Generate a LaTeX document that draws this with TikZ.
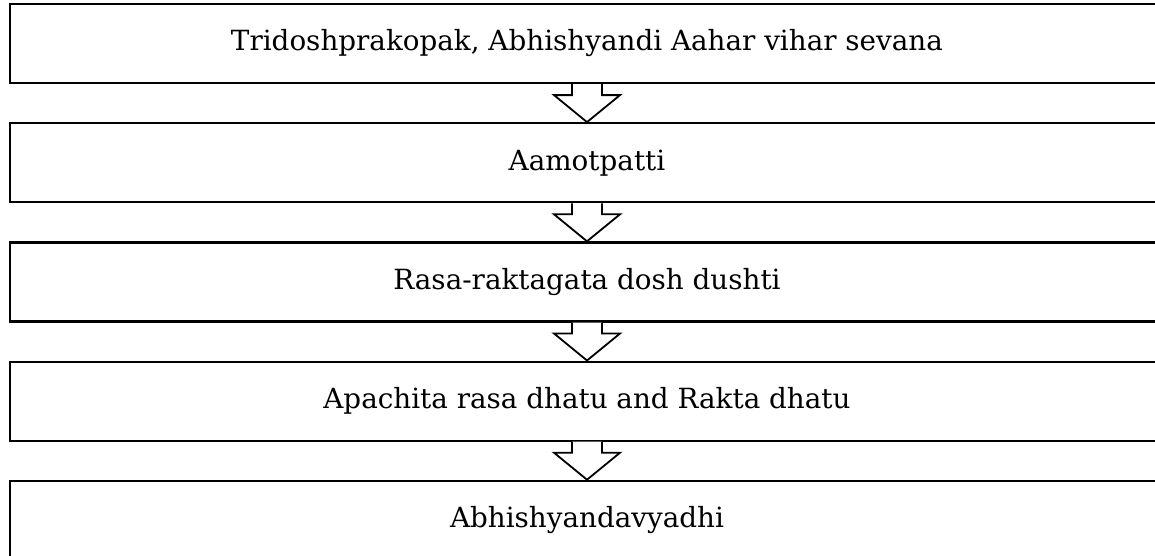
\documentclass[tikz,border=0pt]{standalone}
\usepackage{fontspec}
\setmainfont{DejaVu Serif}
\usetikzlibrary{calc}
\begin{document}
\begin{tikzpicture}[x=1pt,y=-1pt,
  stepbox/.style={draw=black,line width=2.2pt,rectangle,minimum width=1154pt,minimum height=79pt,inner sep=0pt,
    font=\fontsize{27.8}{32}\selectfont},
  flowarrow/.style={draw=black,line width=1.8pt,fill=white,line join=miter}]
\useasboundingbox (0,0) rectangle (1155,555);
\clip (0,0) rectangle (1155,555);
\node[stepbox] (b1) at (587,43.5) {Tridoshprakopak, Abhishyandi Aahar vihar sevana};
\node[stepbox] (b2) at (587,162.7) {Aamotpatti};
\node[stepbox] (b3) at (587,281.9) {Rasa-raktagata dosh dushti};
\node[stepbox] (b4) at (587,401.1) {Apachita rasa dhatu and Rakta dhatu};
\node[stepbox] (b5) at (587,520.3) {Abhishyandavyadhi};
\foreach \a/\b in {b1/b2,b2/b3,b3/b4,b4/b5}{
  \draw[flowarrow] ([xshift=-15pt]\a.south) -- ([xshift=-15pt,yshift=-11pt]\a.south)
    -- ([xshift=-33pt,yshift=-11pt]\a.south) -- (\b.north)
    -- ([xshift=33pt,yshift=-11pt]\a.south) -- ([xshift=15pt,yshift=-11pt]\a.south)
    -- ([xshift=15pt]\a.south);
}
\end{tikzpicture}
\end{document}
